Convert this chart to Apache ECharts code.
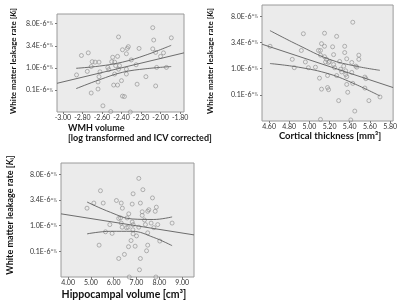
<!DOCTYPE html>
<html>
<head>
<meta charset="utf-8">
<script src="https://cdn.jsdelivr.net/npm/echarts@6/dist/echarts.min.js"></script>
<style>
  html, body { margin: 0; padding: 0; background: #fff; }
  #chart { width: 400px; height: 302px; }
</style>
</head>
<body>
<div id="chart"></div>
<script>
// y axis is cube-root of Ki (in units of 1E-6^1/3)
var yTicks = [0.5, 1.0, 1.5, 2.0];
var yTickLabels = ['0.1E-6', '1.0E-6', '3.4E-6', '8.0E-6'];

var wmhTicks = [-3.0, -2.8, -2.6, -2.4, -2.2, -2.0, -1.8];
var ctTicks = [4.6, 4.8, 5.0, 5.2, 5.4, 5.6, 5.8];
var hvTicks = [4, 5, 6, 7, 8, 9];

// WMH volume vs leakage
var wmhPts = [
  [-2.86, 0.84], [-2.81, 1.28], [-2.74, 1.34], [-2.70, 1.14], [-2.71, 1.03], [-2.75, 0.92],
  [-2.67, 1.13], [-2.63, 1.13], [-2.62, 0.91], [-2.63, 0.80], [-2.64, 0.68], [-2.64, 0.52],
  [-2.71, 0.43], [-2.59, 0.14], [-2.54, 1.01], [-2.53, 0.96], [-2.50, 1.14], [-2.49, 1.24],
  [-2.47, 1.13], [-2.46, 1.05], [-2.43, 1.70], [-2.44, 1.26], [-2.42, 1.05], [-2.43, 0.97],
  [-2.47, 0.86], [-2.48, 0.61], [-2.44, 0.61], [-2.39, 1.41], [-2.34, 1.44], [-2.33, 1.48],
  [-2.35, 1.32], [-2.35, 0.97], [-2.35, 0.86], [-2.30, 1.18], [-2.40, 0.71], [-2.39, 0.36],
  [-2.37, 0.35], [-2.25, 1.07], [-2.22, 1.44], [-2.24, 0.63], [-2.15, 0.80], [-2.08, 1.91],
  [-2.07, 1.63], [-2.08, 1.43], [-2.05, 1.35], [-2.04, 1.01], [-2.05, 0.59], [-2.00, 1.26],
  [-1.97, 1.34], [-1.94, 1.01], [-1.89, 1.68], [-2.51, 0.01], [-2.31, 0.00]
];
var wmhFit = [[-3.06, 0.65], [-1.76, 1.34]];
var wmhUpper = [[-2.864, 0.99], [-2.626, 1.04], [-2.388, 1.13], [-2.150, 1.29], [-1.891, 1.51]];
var wmhLower = [[-2.864, 0.53], [-2.626, 0.73], [-2.388, 0.90], [-2.150, 0.98], [-1.891, 1.03]];

// Cortical thickness vs leakage
var ctPts = [
  [4.61, 1.43], [4.83, 1.18], [4.85, 1.02], [4.94, 1.67], [4.92, 1.35], [4.96, 1.13],
  [4.99, 1.02], [5.06, 1.03], [5.09, 1.35], [5.11, 1.35], [5.11, 1.26], [5.12, 1.48],
  [5.15, 1.68], [5.15, 1.43], [5.15, 1.23], [5.17, 1.18], [5.16, 1.13], [5.19, 1.12],
  [5.20, 1.14], [5.10, 0.82], [5.12, 0.61], [5.18, 0.87], [5.18, 0.64], [5.19, 0.60],
  [5.23, 1.42], [5.24, 1.27], [5.24, 1.08], [5.25, 1.02], [5.27, 1.62], [5.27, 0.87],
  [5.30, 1.14], [5.31, 0.99], [5.32, 0.94], [5.35, 1.43], [5.35, 1.31], [5.34, 1.05],
  [5.36, 0.96], [5.36, 0.89], [5.37, 0.85], [5.37, 0.70], [5.37, 1.19], [5.38, 0.55],
  [5.29, 0.39], [5.42, 1.12], [5.42, 0.93], [5.43, 0.72], [5.43, 1.89], [5.46, 1.05],
  [5.47, 1.03], [5.49, 1.26], [5.49, 1.18], [5.55, 0.84], [5.56, 0.81], [5.55, 0.63],
  [5.59, 0.39], [5.70, 0.46], [5.45, 0.19], [5.11, 0.03], [5.41, 0.02]
];
var ctFit = [[4.53, 1.47], [5.83, 0.64]];
var ctUpper = [[4.609, 1.73], [4.893, 1.45], [5.198, 1.18], [5.460, 1.05], [5.699, 0.97]];
var ctLower = [[4.609, 1.10], [4.893, 1.03], [5.198, 0.90], [5.460, 0.70], [5.699, 0.48]];

// Hippocampal volume vs leakage
var hvPts = [
  [4.83, 1.34], [5.13, 1.44], [5.42, 1.68], [5.54, 1.44], [5.36, 0.62], [5.64, 0.88],
  [5.83, 1.02], [5.93, 0.85], [6.12, 1.49], [6.33, 1.44], [6.38, 1.34], [6.22, 1.14],
  [6.30, 1.15], [6.33, 1.05], [6.37, 0.97], [6.59, 1.15], [6.66, 1.23], [6.56, 0.96],
  [6.63, 0.97], [6.81, 1.42], [6.81, 1.07], [6.85, 1.02], [6.84, 0.92], [6.85, 0.84],
  [6.76, 0.71], [6.65, 0.59], [6.22, 0.36], [6.47, 0.44], [6.85, 1.62], [7.10, 1.92],
  [7.17, 1.44], [7.25, 1.20], [7.28, 1.70], [7.25, 1.27], [7.00, 0.80], [6.94, 0.60],
  [7.10, 0.97], [7.35, 1.11], [7.39, 1.02], [7.49, 1.28], [7.54, 1.31], [7.49, 0.86],
  [7.44, 0.51], [7.49, 0.62], [7.17, 0.36], [7.13, 0.14], [7.70, 1.54], [7.64, 1.05],
  [7.76, 0.96], [7.82, 1.28], [7.87, 1.36], [7.93, 1.02], [8.02, 0.70], [8.56, 1.05],
  [6.68, 0.00], [7.85, 0.00]
];
var hvFit = [[3.69, 1.23], [9.52, 0.82]];
var hvUpper = [[4.833, 1.46], [5.857, 1.26], [6.807, 1.13], [7.757, 1.12], [8.561, 1.17]];
var hvLower = [[4.833, 0.84], [5.857, 0.89], [6.807, 0.89], [7.757, 0.77], [8.561, 0.61]];

var font = 'Lato, "Open Sans", sans-serif';
var lineColor = '#5e5e5e';
var dotColor = '#8c8c8c';

var panels = [
  { box: { left: 57, top: 14, width: 127, height: 98 }, xMin: -3.06, xMax: -1.76, ticks: wmhTicks,
    pts: wmhPts, fit: wmhFit, upper: wmhUpper, lower: wmhLower },
  { box: { left: 262, top: 5, width: 137, height: 116 }, xMin: 4.53, xMax: 5.83, ticks: ctTicks,
    pts: ctPts, fit: ctFit, upper: ctUpper, lower: ctLower },
  { box: { left: 61, top: 163, width: 133, height: 114 }, xMin: 3.69, xMax: 9.52, ticks: hvTicks,
    pts: hvPts, fit: hvFit, upper: hvUpper, lower: hvLower }
];

function yLabel(v) {
  for (var k = 0; k < yTicks.length; k++) {
    if (Math.abs(yTicks[k] - v) < 1e-6) return '{n|' + yTickLabels[k] + '}{p|^⅓}';
  }
  return '';
}

var grids = [], xAxes = [], yAxes = [], series = [];
panels.forEach(function(p, i) {
  grids.push({
    left: p.box.left, top: p.box.top, width: p.box.width, height: p.box.height,
    show: true, backgroundColor: '#ebebeb', borderColor: '#9a9a9a', borderWidth: 1
  });
  xAxes.push({
    gridIndex: i, type: 'value', min: p.xMin, max: p.xMax,
    axisLine: { show: false }, splitLine: { show: false },
    axisTick: { show: true, customValues: p.ticks, length: 2, lineStyle: { color: '#777' } },
    axisLabel: {
      customValues: p.ticks, margin: 2, color: '#333', fontSize: 7, fontFamily: font,
      formatter: function(v) { return v.toFixed(2); }
    }
  });
  yAxes.push({
    gridIndex: i, type: 'value', min: 0, max: 2.22,
    axisLine: { show: false }, splitLine: { show: false },
    axisTick: { show: true, customValues: yTicks, length: 2, lineStyle: { color: '#777' } },
    axisLabel: {
      customValues: yTicks, margin: 4, formatter: yLabel,
      rich: {
        n: { fontSize: 7, color: '#333', fontFamily: font },
        p: { fontSize: 5, color: '#333', fontFamily: font }
      }
    }
  });
  series.push({
    type: 'scatter', xAxisIndex: i, yAxisIndex: i, data: p.pts,
    symbol: 'circle', symbolSize: 4,
    itemStyle: { color: 'transparent', borderColor: dotColor, borderWidth: 0.8 }
  });
  [p.fit, p.upper, p.lower].forEach(function(d, j) {
    series.push({
      type: 'line', xAxisIndex: i, yAxisIndex: i, data: d,
      showSymbol: false, smooth: j > 0 ? 0.4 : false,
      lineStyle: { color: lineColor, width: 0.9 }
    });
  });
});

var yTitle = 'White matter leakage rate [{k|K}{s|i}]';
function yTitleRich(size) {
  return {
    k: { fontSize: size, fontWeight: 'bold', fontStyle: 'italic', fontFamily: font },
    s: { fontSize: size * 0.6, fontWeight: 'bold', fontFamily: font, padding: [size * 0.4, 0, 0, 0] }
  };
}
function titleText(x, y, text, size, rot, align, rich) {
  return {
    type: 'text', x: x, y: y, rotation: rot || 0, silent: true,
    style: {
      text: text, fill: '#111', fontSize: size, fontWeight: 'bold', fontFamily: font,
      align: align || 'center', verticalAlign: 'middle', rich: rich || {}
    }
  };
}

var chart = echarts.init(document.getElementById('chart'), null, { renderer: 'canvas' });
chart.setOption({
  animation: false,
  grid: grids,
  xAxis: xAxes,
  yAxis: yAxes,
  series: series,
  graphic: [
    titleText(13, 61, yTitle, 8, Math.PI / 2, 'center', yTitleRich(8)),
    titleText(210, 61, yTitle, 8, Math.PI / 2, 'center', yTitleRich(8)),
    titleText(10, 215, yTitle, 9, Math.PI / 2, 'center', yTitleRich(9)),
    titleText(68, 128, 'WMH volume', 9, 0, 'left'),
    titleText(68, 138, '[log transformed and ICV corrected]', 9, 0, 'left'),
    titleText(330, 136, 'Cortical thickness [mm³]', 9.5, 0, 'center'),
    titleText(124, 295, 'Hippocampal volume [cm³]', 10.5, 0, 'center')
  ]
});
window.addEventListener('resize', function() { chart.resize(); });
</script>
</body>
</html>
